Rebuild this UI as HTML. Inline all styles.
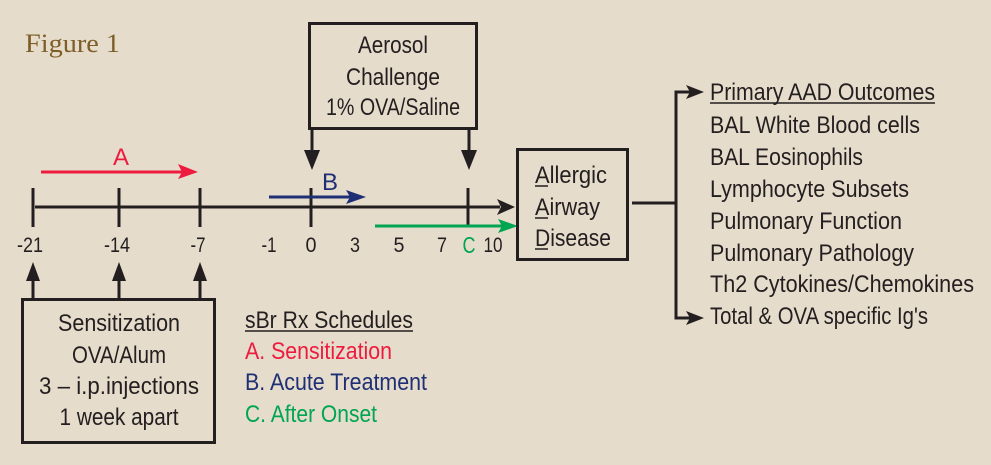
<!DOCTYPE html>
<html><head><meta charset="utf-8"><style>
html,body{margin:0;padding:0;background:#e6dccb;}
svg{display:block}
text{font-family:"Liberation Sans",sans-serif;font-size:24px;fill:#231f20}
text.n{font-size:21px}
</style></head><body>
<svg width="991" height="465" viewBox="0 0 991 465" xmlns="http://www.w3.org/2000/svg">
<rect width="991" height="465" fill="#e6dccb"/>
<text x="25" y="52" textLength="95" lengthAdjust="spacingAndGlyphs" style="font-family:'Liberation Serif',serif;font-size:26px;fill:#7d5d28">Figure 1</text>

<!-- Aerosol box -->
<rect x="309.5" y="23.5" width="167" height="105" fill="none" stroke="#231f20" stroke-width="3"/>
<text x="393" y="53" text-anchor="middle" textLength="70" lengthAdjust="spacingAndGlyphs">Aerosol</text>
<text x="393" y="85" text-anchor="middle" textLength="94" lengthAdjust="spacingAndGlyphs">Challenge</text>
<text x="393" y="115" text-anchor="middle" textLength="134" lengthAdjust="spacingAndGlyphs">1% OVA/Saline</text>
<line x1="312" y1="129" x2="312" y2="155" stroke="#231f20" stroke-width="3"/>
<polygon points="304,150 320,150 312,170" fill="#231f20"/>
<line x1="469" y1="129" x2="469" y2="155" stroke="#231f20" stroke-width="3"/>
<polygon points="461,150 477,150 469,170" fill="#231f20"/>

<!-- timeline -->
<line x1="35" y1="207" x2="500" y2="207" stroke="#231f20" stroke-width="3"/>
<polygon points="497,199 515,207 497,215 501,207" fill="#231f20"/>
<g stroke="#231f20" stroke-width="3">
<line x1="33" y1="188" x2="33" y2="227"/>
<line x1="119" y1="188" x2="119" y2="227"/>
<line x1="200" y1="188" x2="200" y2="227"/>
<line x1="311" y1="188" x2="311" y2="227"/>
<line x1="468" y1="188" x2="468" y2="227"/>
</g>
<g text-anchor="middle">
<text class="n" x="30" y="252" textLength="26" lengthAdjust="spacingAndGlyphs">-21</text>
<text class="n" x="117" y="252" textLength="26" lengthAdjust="spacingAndGlyphs">-14</text>
<text class="n" x="198" y="252" textLength="15" lengthAdjust="spacingAndGlyphs">-7</text>
<text class="n" x="269" y="252" textLength="15" lengthAdjust="spacingAndGlyphs">-1</text>
<text class="n" x="311" y="252" textLength="11" lengthAdjust="spacingAndGlyphs">0</text>
<text class="n" x="355" y="252" textLength="10" lengthAdjust="spacingAndGlyphs">3</text>
<text class="n" x="399" y="252" textLength="11" lengthAdjust="spacingAndGlyphs">5</text>
<text class="n" x="442" y="252" textLength="10" lengthAdjust="spacingAndGlyphs">7</text>
<text x="469" y="253" style="fill:#00a551;font-size:23px" textLength="13" lengthAdjust="spacingAndGlyphs">C</text>
<text class="n" x="493" y="252" textLength="19" lengthAdjust="spacingAndGlyphs">10</text>
</g>

<!-- A red -->
<line x1="41" y1="172" x2="185" y2="172" stroke="#ed1c3f" stroke-width="3"/>
<polygon points="178,164 198,172 178,179 182,172" fill="#ed1c3f"/>
<text x="121" y="165" text-anchor="middle" style="fill:#ed1c3f">A</text>
<!-- B blue -->
<line x1="269" y1="197" x2="355" y2="197" stroke="#1f2f75" stroke-width="3"/>
<polygon points="346,190 366,197 346,204 350,197" fill="#1f2f75"/>
<text x="330" y="190" text-anchor="middle" style="fill:#1f2f75">B</text>
<!-- C green -->
<line x1="375" y1="226" x2="505" y2="226" stroke="#00a551" stroke-width="3"/>
<polygon points="498,219 518,226 498,233 502,226" fill="#00a551"/>

<!-- Allergic box -->
<rect x="517.5" y="149.5" width="110" height="110" fill="none" stroke="#231f20" stroke-width="3"/>
<text x="535" y="183" textLength="72" lengthAdjust="spacingAndGlyphs">Allergic</text>
<text x="535" y="215" textLength="65" lengthAdjust="spacingAndGlyphs">Airway</text>
<text x="535" y="246" textLength="76" lengthAdjust="spacingAndGlyphs">Disease</text>
<g stroke="#231f20" stroke-width="1.5">
<line x1="535" y1="186" x2="548" y2="186"/>
<line x1="535" y1="218" x2="548" y2="218"/>
<line x1="535" y1="249" x2="548" y2="249"/>
</g>

<!-- outcomes connector -->
<g stroke="#231f20" stroke-width="3" fill="none">
<line x1="632" y1="203" x2="676" y2="203"/>
<polyline points="690,92 676,92 676,318 690,318"/>
</g>
<polygon points="686,85 704,92 686,99 690,92" fill="#231f20"/>
<polygon points="686,311 704,318 686,325 690,318" fill="#231f20"/>
<g>
<text x="710" y="100" textLength="225" lengthAdjust="spacingAndGlyphs">Primary AAD Outcomes</text>
<text x="710" y="133" textLength="210" lengthAdjust="spacingAndGlyphs">BAL White Blood cells</text>
<text x="710" y="165" textLength="153" lengthAdjust="spacingAndGlyphs">BAL Eosinophils</text>
<text x="710" y="197" textLength="199" lengthAdjust="spacingAndGlyphs">Lymphocyte Subsets</text>
<text x="710" y="229" textLength="192" lengthAdjust="spacingAndGlyphs">Pulmonary Function</text>
<text x="710" y="261" textLength="204" lengthAdjust="spacingAndGlyphs">Pulmonary Pathology</text>
<text x="710" y="292" textLength="264" lengthAdjust="spacingAndGlyphs">Th2 Cytokines/Chemokines</text>
<text x="710" y="324" textLength="218" lengthAdjust="spacingAndGlyphs">Total &amp; OVA specific Ig's</text>
</g>
<line x1="710" y1="103" x2="935" y2="103" stroke="#231f20" stroke-width="1.5"/>

<!-- sensitization -->
<g stroke="#231f20" stroke-width="3">
<line x1="33" y1="299" x2="33" y2="275"/>
<line x1="119" y1="299" x2="119" y2="275"/>
<line x1="200" y1="299" x2="200" y2="275"/>
</g>
<polygon points="26,281 33,262 40,281" fill="#231f20"/>
<polygon points="112,281 119,262 126,281" fill="#231f20"/>
<polygon points="193,281 200,262 207,281" fill="#231f20"/>
<rect x="22.5" y="299.5" width="192" height="143" fill="none" stroke="#231f20" stroke-width="3"/>
<text x="119" y="331" text-anchor="middle" textLength="122" lengthAdjust="spacingAndGlyphs">Sensitization</text>
<text x="119" y="363" text-anchor="middle" textLength="94" lengthAdjust="spacingAndGlyphs">OVA/Alum</text>
<text x="119" y="394" text-anchor="middle" textLength="160" lengthAdjust="spacingAndGlyphs">3 – i.p.injections</text>
<text x="119" y="425" text-anchor="middle" textLength="119" lengthAdjust="spacingAndGlyphs">1 week apart</text>

<text x="245" y="328" textLength="168" lengthAdjust="spacingAndGlyphs">sBr Rx Schedules</text>
<line x1="245" y1="331" x2="413" y2="331" stroke="#231f20" stroke-width="1.5"/>
<text x="245" y="359" style="fill:#ed1c3f" textLength="147" lengthAdjust="spacingAndGlyphs">A. Sensitization</text>
<text x="245" y="390" style="fill:#1f2f75" textLength="182" lengthAdjust="spacingAndGlyphs">B. Acute Treatment</text>
<text x="245" y="422" style="fill:#00a551" textLength="132" lengthAdjust="spacingAndGlyphs">C. After Onset</text>
</svg>
</body></html>
